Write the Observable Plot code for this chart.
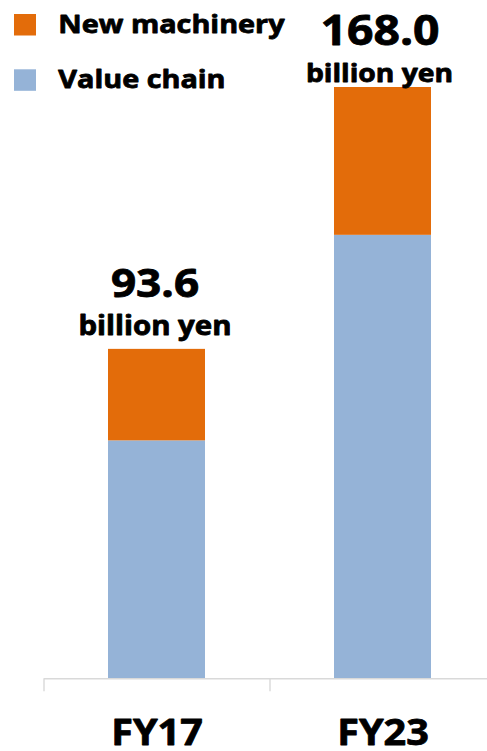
<!DOCTYPE html>
<html>
<head>
<meta charset="utf-8">
<script src="https://cdn.jsdelivr.net/npm/d3@7"></script>
<script src="https://cdn.jsdelivr.net/npm/@observablehq/plot@0.6"></script>
<style>
  html, body { margin: 0; padding: 0; background: #fff; }
  #wrap { position: relative; width: 487px; height: 751px; overflow: hidden; }
  #wrap > svg { position: absolute; left: 0; top: 0; }
  #wrap text { stroke: #000; stroke-width: 0.8px; stroke-linejoin: round; }
</style>
</head>
<body>
<div id="wrap"></div>
<script>
// ---- data ----
const years = ["FY17", "FY23"];
const seriesNames = ["Value chain", "New machinery"];
const valueChain = [67.6, 126.0];
const newMachinery = [26.0, 42.0];
const totals = [93.6, 168.0];
const unitLabel = "billion yen";
const seriesColors = ["#95B3D7", "#E36C0A"];
const legendOrder = ["New machinery", "Value chain"];

// ---- tables ----
const rows = years.flatMap((y, i) => [
  {year: y, series: seriesNames[0], value: valueChain[i]},
  {year: y, series: seriesNames[1], value: newMachinery[i]}
]);
const labels = years.map((y, i) => ({year: y, total: totals[i]}));

const font = "'Open Sans', 'Noto Sans', sans-serif";
const STRETCH = 1.13;

const chart = Plot.plot({
  width: 487,
  height: 751,
  marginTop: 87,
  marginBottom: 72.7,
  marginLeft: 44,
  marginRight: 0,
  style: {fontFamily: font, fontWeight: "bold", color: "#000", background: "transparent"},
  x: {domain: years, range: [43.7, 495.7], paddingInner: 0.57, paddingOuter: 0.285, axis: null},
  y: {domain: [0, d3.max(totals)], axis: null},
  color: {domain: seriesNames, range: seriesColors},
  marks: [
    Plot.barY(rows, {x: "year", y: "value", fill: "series"}),
    Plot.ruleY([0], {stroke: "#D9D9D9", strokeWidth: 1.4}),
    Plot.ruleX(years, {x: d => d, dx: -113, y1: 0, y2: 0, insetBottom: -13, stroke: "#D9D9D9", strokeWidth: 1.4}),
    // value labels
    Plot.text(labels.filter(d => d.year === years[0]), {x: "year", y: "total", text: d => d.total.toFixed(1), lineAnchor: "bottom", dy: -52, dx: -2, fontSize: 39, fill: "#000"}),
    Plot.text(labels.filter(d => d.year === years[0]), {x: "year", y: "total", text: () => unitLabel, lineAnchor: "bottom", dy: -14, dx: -2, fontSize: 26, fill: "#000"}),
    Plot.text(labels.filter(d => d.year === years[1]), {x: "year", y: "total", text: d => d.total.toFixed(1), lineAnchor: "bottom", dy: -42.7, dx: -3, fontSize: 41, fill: "#000"}),
    Plot.text(labels.filter(d => d.year === years[1]), {x: "year", y: "total", text: () => unitLabel, lineAnchor: "bottom", dy: -5.3, dx: -3.5, fontSize: 25, fill: "#000"}),
    // category labels
    Plot.text(years, {x: d => d, frameAnchor: "bottom", lineAnchor: "bottom", dy: 66.5, text: d => d, fontSize: 35, fill: "#000"})
  ]
});

const wrap = document.getElementById("wrap");
wrap.appendChild(chart);

// ---- legend overlay ----
const legendColor = name => seriesColors[seriesNames.indexOf(name)];
const leg = d3.select(wrap).append("svg")
  .attr("width", 487).attr("height", 110)
  .style("font-family", font).style("font-weight", "bold");
const items = leg.selectAll("g").data(legendOrder).join("g")
  .attr("transform", (d, i) => `translate(14, ${14 + i * 55.3})`);
items.append("rect").attr("width", 22).attr("height", 21.5).attr("fill", d => legendColor(d));
items.append("text").attr("x", 44.3).attr("y", 18.8).attr("font-size", 25.5).attr("fill", "#000").text(d => d);

// stretch all text horizontally to match the wide reference lettering
wrap.querySelectorAll("text").forEach(t => {
  const len = t.getComputedTextLength();
  if (len > 0) {
    t.setAttribute("textLength", (len * STRETCH).toFixed(2));
    t.setAttribute("lengthAdjust", "spacingAndGlyphs");
  }
});
</script>
</body>
</html>
